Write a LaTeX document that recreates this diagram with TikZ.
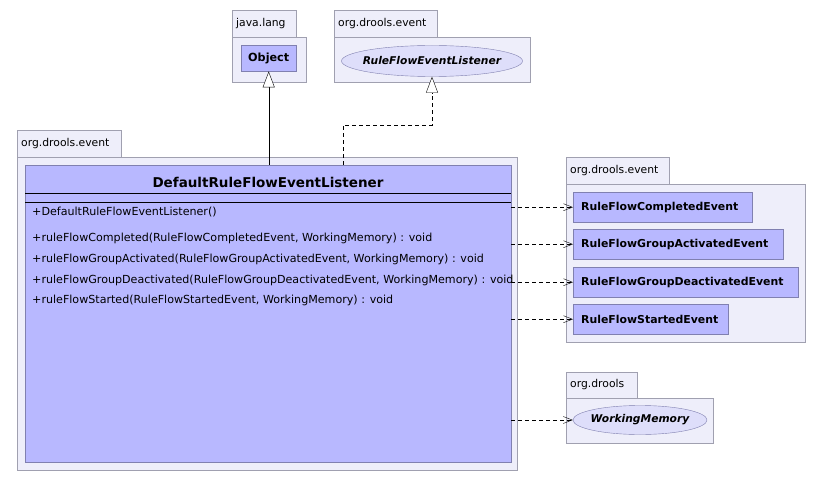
\documentclass[tikz,border=0pt]{standalone}
\usepackage{fontspec}
\setmainfont{DejaVu Sans}
\usetikzlibrary{arrows.meta,shapes.geometric}
\definecolor{pkgfill}{RGB}{238,238,250}
\definecolor{pkgline}{RGB}{160,160,176}
\definecolor{clsfill}{RGB}{184,184,255}
\definecolor{clsline}{RGB}{128,128,176}
\definecolor{ifcfill}{RGB}{222,222,250}
\tikzstyle{pkg}=[draw=pkgline,fill=pkgfill]
\tikzstyle{pkglabel}=[anchor=west,inner sep=0pt,font=\fontsize{10.8}{13}\selectfont]
\tikzstyle{cls}=[draw=clsline,fill=clsfill,anchor=north west,inner sep=0pt,font=\bfseries\fontsize{10.9}{13}\selectfont]
\tikzstyle{ifc}=[draw=clsline,fill=ifcfill,ellipse,inner sep=0pt]
\tikzstyle{ifctext}=[inner sep=0pt,font=\bfseries\itshape\fontsize{10.7}{13}\selectfont]
\tikzstyle{method}=[anchor=west,inner sep=0pt,font=\fontsize{11.1}{13}\selectfont]
\tikzstyle{dep}=[dash pattern=on 4pt off 3pt,-{Straight Barb[length=9pt,width=7pt]}]
\tikzstyle{gen}=[-{Triangle[open,fill=white,length=16pt,width=12pt]}]
% package: name, x, tab top, tab right, body top, body right, body bottom, label
\newcommand{\package}[8]{
  \draw[pkg] (#2,#3) rectangle (#4,#5);
  \draw[pkg] (#2,#5) rectangle (#6,#7);
  \node[pkglabel] (#1) at (#2+4,{(#3+#5)/2}) {#8};
}

\begin{document}
\begin{tikzpicture}[x=1pt,y=-1pt]
\useasboundingbox[fill=white] (0,0) rectangle (824,481);

\package{javalang}{232}{10}{296}{37}{306}{82}{java.lang}
\package{eventtop}{334}{10}{437}{37}{530}{82}{org.drools.event}
\package{eventmain}{17}{130}{121}{157}{517}{470}{org.drools.event}
\package{eventright}{566}{157}{669}{184}{805}{342}{org.drools.event}
\package{drools}{566}{372}{637}{398}{713}{443}{org.drools}

% superclass and interface
\node[cls,minimum width=55pt,minimum height=26pt] (object) at (241,45) {};
\node[font=\bfseries\fontsize{11.2}{13}\selectfont] at (object.center) {Object};
\node[ifc,minimum width=181pt,minimum height=31pt] (listenerifc) at (432,61) {};
\node[ifctext] at (listenerifc.center) {RuleFlowEventListener};

% main class
\node[cls,minimum width=486pt,minimum height=297pt] (listener) at (25,165) {};
\node[font=\bfseries\fontsize{13.5}{16}\selectfont] (title) at (268,182) {DefaultRuleFlowEventListener};
\draw (25,193) -- (511,193);
\draw (25,202) -- (511,202);
\node[method] (ctor) at (32,212) {+DefaultRuleFlowEventListener()};
\foreach \y/\txt [count=\i] in {238/{+ruleFlowCompleted(RuleFlowCompletedEvent, WorkingMemory) : void},
  259/{+ruleFlowGroupActivated(RuleFlowGroupActivatedEvent, WorkingMemory) : void},
  280/{+ruleFlowGroupDeactivated(RuleFlowGroupDeactivatedEvent, WorkingMemory) : void},
  300/{+ruleFlowStarted(RuleFlowStartedEvent, WorkingMemory) : void}}
  \node[method] (m\i) at (32,\y) {\txt};

% event classes
\node[cls,minimum width=179pt,minimum height=30pt,text width=163pt,align=left] (completed) at (573,192) {RuleFlowCompletedEvent};
\node[cls,minimum width=210pt,minimum height=30pt,text width=194pt,align=left] (activated) at (573,229) {RuleFlowGroupActivatedEvent};
\node[cls,minimum width=225pt,minimum height=30pt,text width=209pt,align=left] (deactivated) at (573,267) {RuleFlowGroupDeactivatedEvent};
\node[cls,minimum width=155pt,minimum height=30pt,text width=139pt,align=left] (started) at (573,304) {RuleFlowStartedEvent};
\node[ifc,minimum width=134pt,minimum height=29pt] (memory) at (640,420) {};
\node[ifctext] at (memory.center) {WorkingMemory};

% connectors
\coordinate (bend1) at (343,125);
\coordinate (bend2) at (432,125);
\draw[gen] (listener.north -| object) -- (object.south);
\draw[gen,dash pattern=on 4pt off 3pt] (listener.north -| bend1) -- (bend1) -- (bend2) -- (listenerifc.south);
\draw[dep] (listener.east |- completed) -- (completed.west);
\draw[dep] (listener.east |- activated) -- (activated.west);
\draw[dep] (listener.east |- deactivated) -- (deactivated.west);
\draw[dep] (listener.east |- started) -- (started.west);
\draw[dep] (listener.east |- memory) -- (memory.west);
\end{tikzpicture}
\end{document}
